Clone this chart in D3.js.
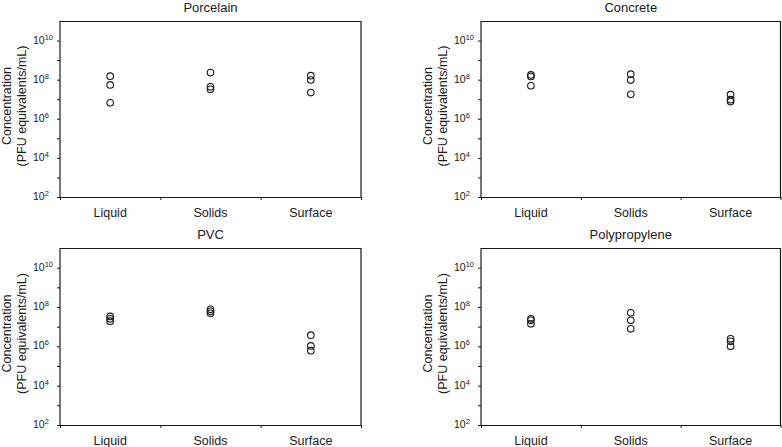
<!DOCTYPE html>
<html>
<head>
<meta charset="utf-8">
<script src="https://cdn.jsdelivr.net/npm/d3@7"></script>
<style>
  html, body { margin: 0; padding: 0; background: #fff; }
  svg { display: block; font-family: "Liberation Sans", Arial, sans-serif; }
</style>
</head>
<body>
<svg id="chart" width="782" height="447"></svg>
<script>
// ---- Data ----
const categories = ["Liquid", "Solids", "Surface"];
const panelTitles = ["Porcelain", "Concrete", "PVC", "Polypropylene"];
const yTickExponents = [2, 3, 4, 5, 6, 7, 8, 9, 10];
const yLabelExponents = [2, 4, 6, 8, 10];
const yAxisTitle = ["Concentration", "(PFU equivalents/mL)"];

// values per category: [Liquid], [Solids], [Surface]
const porcelainValues = [
  [1.5e8, 5.4e7, 6.6e6],
  [2.3e8, 4.3e7, 3.2e7],
  [1.6e8, 9.6e7, 2.2e7]
];
const concreteValues = [
  [1.74e8, 1.45e8, 4.9e7],
  [1.9e8, 9.5e7, 1.8e7],
  [1.7e7, 9.5e6, 7.6e6]
];
const pvcValues = [
  [3.3e7, 2.5e7, 1.9e7],
  [7.6e7, 6.0e7, 4.8e7],
  [3.7e6, 1.05e6, 6.0e5]
];
const polypropyleneValues = [
  [2.5e7, 2.1e7, 1.4e7],
  [5.1e7, 2.1e7, 7.8e6],
  [2.4e6, 1.8e6, 1.0e6]
];

const panelValues = [porcelainValues, concreteValues, pvcValues, polypropyleneValues];

// ---- Layout ----
const frames = [
  { left: 60, right: 361, top: 21, bottom: 197 },
  { left: 481, right: 780.5, top: 21, bottom: 197 },
  { left: 60, right: 361, top: 248, bottom: 425 },
  { left: 481, right: 780.5, top: 248, bottom: 425 }
];

const svg = d3.select("#chart");
const ink = "#1a1a1a";

panelTitles.forEach((title, i) => {
  const f = frames[i];
  const g = svg.append("g");

  const y = d3.scaleLog().domain([1e2, 1e11]).range([f.bottom, f.top]);
  const x = d3.scaleBand().domain(categories).range([f.left, f.right]).padding(0);
  const xb = d3.scaleLinear().domain([0, categories.length]).range([f.left, f.right]);

  // frame (top & right)
  g.append("path")
    .attr("d", `M${f.left},${f.top + 0.5}H${f.right}V${f.bottom}`)
    .attr("fill", "none").attr("stroke", ink).attr("stroke-width", 1.2);

  // y axis
  const yAxis = d3.axisLeft(y)
    .tickValues(yTickExponents.map(e => Math.pow(10, e)))
    .tickSize(3).tickSizeOuter(0)
    .tickFormat("");
  const ya = g.append("g").attr("transform", `translate(${f.left},0)`).call(yAxis);
  ya.select(".domain").attr("stroke", ink).attr("stroke-width", 1.2)
    .attr("d", `M0,${f.top}V${f.bottom}`);
  ya.selectAll(".tick line").attr("stroke", ink);

  // y labels 10^n
  yLabelExponents.forEach(e => {
    const t = g.append("text")
      .attr("x", f.left - 27)
      .attr("y", y(Math.pow(10, e)))
      .attr("dy", "0.3em")
      .attr("font-size", 10.5)
      .attr("fill", ink)
      .text("10");
    t.append("tspan")
      .attr("dy", "-0.55em")
      .attr("font-size", 7.5)
      .text(e);
  });

  // x axis: boundary ticks
  const xAxis = d3.axisBottom(xb).ticks(categories.length).tickSize(3).tickSizeOuter(0).tickFormat("");
  const xa = g.append("g").attr("transform", `translate(0,${f.bottom})`).call(xAxis);
  xa.select(".domain").attr("stroke", ink).attr("stroke-width", 1.2);
  xa.selectAll(".tick line").attr("stroke", ink);

  // x labels via band scale
  const xl = d3.axisBottom(x).tickSize(0).tickPadding(0);
  const xla = g.append("g").attr("transform", `translate(0,${f.bottom})`).call(xl);
  xla.select(".domain").remove();
  xla.selectAll("text")
    .attr("y", 19.5).attr("dy", 0)
    .attr("font-size", 12.5)
    .attr("font-family", "Liberation Sans, Arial, sans-serif")
    .attr("fill", ink);

  // title
  g.append("text")
    .attr("x", (f.left + f.right) / 2)
    .attr("y", f.top - 9)
    .attr("text-anchor", "middle")
    .attr("font-size", 13)
    .attr("fill", ink)
    .text(title);

  // y axis title
  const cy = (f.top + f.bottom) / 2 - 3;
  yAxisTitle.forEach((line, k) => {
    g.append("text")
      .attr("transform", `translate(${f.left - 53 + k * 15},${cy}) rotate(-90)`)
      .attr("text-anchor", "middle")
      .attr("dy", "0.35em")
      .attr("font-size", 12.5)
      .attr("fill", ink)
      .text(line);
  });

  // points
  const pts = [];
  panelValues[i].forEach((vals, ci) => {
    vals.forEach(v => pts.push({ cat: categories[ci], v }));
  });
  g.selectAll("circle").data(pts).enter().append("circle")
    .attr("cx", d => x(d.cat) + x.bandwidth() / 2)
    .attr("cy", d => y(d.v))
    .attr("r", 3.3)
    .attr("fill", "none")
    .attr("stroke", ink)
    .attr("stroke-width", 1.1);
});
</script>
</body>
</html>
